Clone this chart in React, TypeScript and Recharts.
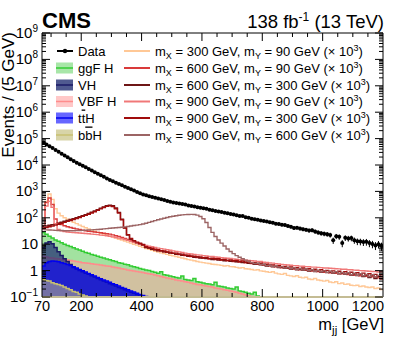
import React from 'react';
import { ComposedChart, Area, Line, Scatter, XAxis, YAxis, ErrorBar, ReferenceLine } from 'recharts';

const FONT = "'Liberation Sans', Arial, Helvetica, sans-serif";
const W = 407, H = 340;
const PL = 42, PR = 383, PT = 33, PB = 297;

// bin lower edges (10 GeV bins, values in events / 5 GeV)
const binLo = 70, binW = 10, nBins = 113;

const dataVals = [70800,60300,51300,43600,37200,31600,26900,22900,19500,16600,
14100,12300,10700,9330,8130,7080,6170,5370,4680,4070,
3550,3090,2690,2400,2140,1910,1700,1510,1350,1200,
1070,955,851,759,708,661,617,575,537,501,
468,437,407,380,363,347,331,316,295,282,
269,251,240,229,219,204,195,182,174,166,
155,148,138,132,126,117,116,105,100,92,
89,85,79,76,72,68,65,60,58,55,
53,49,46,41,42,39,37,35,33,34,
30,28,26,25,24,22.4,14,20,19,11,
17.4,16.6,17,14.1,12.8,12.6,12.0,12.3,11.0,10.2,
9.0,10.0,8.5];

const ggfH = [28,24,20,17,14.5,12.8,11.3,10,9,8.2,
7.4,6.6,6.0,5.4,4.9,4.5,4.1,3.8,3.5,3.2,
3.0,2.75,2.55,2.35,2.2,2.0,1.9,1.75,1.65,1.5,
1.4,1.3,1.2,1.12,1.05,1.0,0.92,0.86,0.8,0.9,
0.7,0.66,0.62,0.58,0.55,0.52,0.62,0.46,0.44,0.42,
0.5,0.38,0.36,0.34,0.32,0.31,0.29,0.36,0.26,0.25,
0.24,0.22,0.21,0.2,0.24,0.17,0.16,0.15,0.14,0.13,
0.15,0.11,0.1,0.09,0.08];

const vbfH = [3.5,3.3,3.1,3.0,2.9,2.8,2.7,2.6,2.5,2.4,
2.3,2.2,2.1,2.0,1.95,1.9,1.8,1.75,1.7,1.62,
1.55,1.5,1.45,1.38,1.3,1.25,1.18,1.12,1.06,1.0,
0.96,0.92,0.88,0.84,0.8,0.76,0.72,0.68,0.64,0.6,
0.56,0.53,0.5,0.47,0.44,0.42,0.4,0.38,0.36,0.34,
0.32,0.3,0.29,0.27,0.26,0.25,0.24,0.22,0.21,0.2,
0.19,0.18,0.17,0.16,0.15,0.14,0.13,0.12,0.11,0.105,
0.1,0.09,0.08,0.07];

const vhH = [7.5,11,12.5,10.5,7.5,5.2,3.7,2.8,2.2,1.7,
1.3,1.15,1.0,0.9,0.8,0.72,0.64,0.57,0.5,0.45,
0.4,0.36,0.32,0.29,0.26,0.23,0.21,0.19,0.17,0.15,
0.14,0.125,0.11,0.1,0.09];

const tthH = [1.5,2.0,2.2,2.3,2.25,2.15,2.0,1.85,1.7,1.55,
1.4,1.25,1.1,0.98,0.88,0.78,0.7,0.62,0.55,0.49,
0.44,0.4,0.36,0.32,0.29,0.26,0.23,0.21,0.19,0.17,
0.155,0.14,0.125,0.115,0.105,0.098,0.09,0.08];

const bbhH = [0.45,0.42,0.4,0.35,0.32,0.3,0.27,0.24,0.21,0.19,0.16,0.15,0.13,0.12,0.11,0.1,0.09,0.08];

const sigX300Y90 = [60,420,800,500,220,150,120,100,88,78,
68,60,53,47,42,38,34,31,28,26,
24,22,20,18.5,17,15.5,14.3,13.2,12,11,
10,9.2,8.4,7.6,6.9,6.4,5.9,5.4,5.0,4.7,
4.4,4.1,3.8,3.6,3.4,3.2,3.0,2.8,2.6,2.5,
2.35,2.2,2.1,2.0,1.92,1.85,1.75,1.7,1.65,1.58,
1.5,1.55,1.42,1.4,1.32,1.26,1.3,1.18,1.15,1.1,
1.04,1.08,0.98,0.95,0.9,0.86,0.9,0.8,0.75,0.72,
0.78,0.66,0.63,0.6,0.64,0.56,0.53,0.56,0.48,0.46,
0.5,0.44,0.42,0.4,0.42,0.37,0.35,0.38,0.32,0.34,
0.3,0.31,0.28,0.27,0.28,0.25,0.26,0.24,0.23,0.24,
0.21,0.22,0.19];

const sigX600Y90 = [50,380,560,320,90,62,55,50,46,43,
40,38,36,34,32.5,31,30,29,28,27,
26,25,24,22.5,21,19.5,18,16.5,15,13.5,
12,11,10,9,7.6,7.2,6.6,6.2,5.8,5.5,
5.2,4.9,4.7,4.5,4.2,4.05,3.9,3.7,3.55,3.4,
3.3,3.15,3.1,2.95,2.9,2.75,2.75,2.62,2.6,2.48,
2.45,2.35,2.3,2.22,2.2,2.1,2.08,1.98,1.95,1.85,
1.82,1.74,1.72,1.62,1.58,1.5,1.48,1.38,1.36,1.29,
1.28,1.22,1.2,1.14,1.13,1.08,1.07,1.03,1.01,0.97,
0.96,0.92,0.91,0.87,0.86,0.83,0.82,0.79,0.78,0.75,
0.74,0.71,0.7,0.67,0.67,0.64,0.63,0.61,0.6,0.58,
0.57,0.53,0.55];

const sigX600Y300 = [46,49,52,55,59,63,68,74,80,86,
93,101,110,120,132,146,162,180,203,230,
258,285,300,285,235,160,88,42,22,15.5,
12.8,11.4,10.3,9.3,7.5,7.1,6.4,6.1,5.6,5.6,
5.1,5.0,4.6,4.5,4.1,4.2,3.8,3.8,3.45,3.5,
3.2,3.3,3.0,3.05,2.85,2.85,2.65,2.75,2.5,2.6,
2.35,2.45,2.25,2.35,2.15,2.2,2.0,2.1,1.9,1.95,
1.75,1.85,1.65,1.7,1.5,1.6,1.4,1.45,1.3,1.38,
1.22,1.3,1.15,1.22,1.08,1.15,1.02,1.1,0.97,1.03,
0.92,1.0,0.88,0.95,0.84,0.9,0.8,0.86,0.76,0.82,
0.72,0.8,0.68,0.76,0.65,0.72,0.6,0.7,0.55,0.66,
0.5,0.62,0.48];

const sigX900Y90 = [40,280,420,250,60,36,32,30,29,28,
27.5,27,26.5,26,25.5,25,24,23.5,23,22,
21.5,21,20,19,18,17,16,15,14,13,
12,11.2,10.4,9.6,9.0,8.4,8.0,7.5,7.1,6.8,
6.5,6.2,5.9,5.6,5.3,5.1,4.9,4.6,4.4,4.25,
4.1,3.95,3.85,3.7,3.6,3.45,3.4,3.28,3.2,3.08,
3.0,2.92,2.86,2.75,2.7,2.6,2.58,2.48,2.44,2.35,
2.3,2.22,2.2,2.08,2.02,1.95,1.92,1.82,1.78,1.7,
1.68,1.62,1.6,1.54,1.52,1.48,1.46,1.42,1.4,1.36,
1.35,1.32,1.3,1.26,1.25,1.22,1.2,1.17,1.16,1.12,
1.12,1.08,1.07,1.04,1.03,1.0,0.99,0.96,0.95,0.93,
0.92,0.88,0.91];

const sigX900Y300 = [40,43,46,49,53,57,62,67,73,79,
86,94,103,113,124,137,152,170,192,218,
245,270,282,268,220,150,84,41,23,16.5,
13.5,12,10.8,9.8,8.0,7.4,7.0,6.4,6.2,5.7,
5.6,5.1,5.0,4.6,4.6,4.2,4.2,3.8,3.8,3.5,
3.5,3.3,3.3,3.1,3.15,2.9,2.95,2.8,2.8,2.6,
2.65,2.45,2.55,2.35,2.45,2.2,2.3,2.1,2.2,1.95,
2.0,1.82,1.9,1.7,1.75,1.6,1.65,1.45,1.52,1.36,
1.45,1.3,1.38,1.24,1.3,1.18,1.25,1.12,1.18,1.06,
1.12,1.0,1.08,0.96,1.02,0.92,0.98,0.88,0.95,0.84,
0.9,0.8,0.87,0.76,0.83,0.72,0.8,0.68,0.76,0.64,
0.72,0.6,0.7];

const sigX900Y600 = [36,35,34.5,34,33.5,33,33,32.5,32.5,32.5,
32.5,33,33,33.5,34,34.5,35,35.5,36,37,
38,39,40,41,42,43,44,45.5,47,49,
51,53,55,58,62,67,72,78,84,90,
96,103,109,115,120,125,129,132,134,135,
133,126,112,92,66,43,28,19.5,14.5,11,
8.5,6.6,5.3,4.4,3.7,3.2,2.8,2.5,2.25,2.0,
1.85,1.9,1.7,1.75,1.55,1.6,1.45,1.5,1.35,1.42,
1.25,1.35,1.2,1.28,1.12,1.2,1.05,1.15,1.0,1.08,
0.95,1.03,0.9,0.98,0.86,0.94,0.82,0.9,0.78,0.86,
0.74,0.83,0.7,0.8,0.67,0.76,0.64,0.72,0.6,0.7,
0.57,0.66,0.55];

const xTickVals = [70,100,150,200,250,300,350,400,450,500,550,600,650,700,750,800,850,900,950,1000,1050,1100,1150,1200];
const xTickLabels = [70,200,400,600,800,1000,1200];

const yTickVals: number[] = [];
for (let k = -1; k <= 9; k++) {
  yTickVals.push(Number(Math.pow(10, k).toPrecision(3)));
  if (k < 9) for (let d = 2; d <= 9; d++) yTickVals.push(Number((d * Math.pow(10, k)).toPrecision(3)));
}

const histSeries: Record<string, number[]> = {
  ggf: ggfH, vbf: vbfH, vh: vhH, tth: tthH, bbh: bbhH,
  s1: sigX300Y90, s2: sigX600Y90, s3: sigX600Y300, s4: sigX900Y90, s5: sigX900Y300, s6: sigX900Y600,
};

const table = Array.from({ length: nBins + 1 }, (_, i) => {
  const row: Record<string, number | undefined> = { m: binLo + binW * i };
  for (const key of Object.keys(histSeries)) {
    const arr = histSeries[key];
    row[key] = i < arr.length ? arr[i] : i === arr.length ? arr[arr.length - 1] : undefined;
  }
  return row;
});

const dataPts = dataVals.map((v, i) => ({ m: binLo + binW * i + binW / 2, v, err: Math.sqrt(v) }));

const XTick = (props: any) => {
  const { x, payload } = props;
  const v = payload.value;
  const major = v % 200 === 0;
  const len = major ? 8 : 4;
  const showLine = v !== 70 && v !== 1200;
  const lab = xTickLabels.includes(v);
  return (
    <g>
      {showLine && <line x1={x} x2={x} y1={PB} y2={PB - len} stroke="#000" strokeWidth={1} />}
      {showLine && <line x1={x} x2={x} y1={PT} y2={PT + len} stroke="#000" strokeWidth={1} />}
      {lab && (
        <text x={v === 1200 ? x + 1 : x} y={PB + 14} textAnchor={v === 1200 ? 'end' : 'middle'} fontSize={14.5} fontFamily={FONT} fill="#000">
          {v}
        </text>
      )}
    </g>
  );
};

const YTick = (props: any) => {
  const { y, payload } = props;
  const v = payload.value;
  const k = Math.round(Math.log10(v));
  const major = Math.abs(v - Math.pow(10, k)) / v < 1e-6;
  const len = major ? 8 : 4;
  let label: any = null;
  if (major) {
    if (k === 0) label = '1';
    else if (k === 1) label = '10';
    else label = (<>10<tspan dy={-6} fontSize={10}>{k < 0 ? '\u2212' + Math.abs(k) : k}</tspan></>);
  }
  return (
    <g>
      <line x1={PL} x2={PL + len} y1={y} y2={y} stroke="#000" strokeWidth={1} />
      <line x1={PR - len} x2={PR} y1={y} y2={y} stroke="#000" strokeWidth={1} />
      {label && (
        <text x={38} y={y + 5} textAnchor="end" fontSize={15} fontFamily={FONT} fill="#000">{label}</text>
      )}
    </g>
  );
};

const bgStyles = [
  { key: 'ggf', name: 'ggF H', stroke: '#33cc33', fill: '#a2e2a0', op: 1, box: '#a8e6a8' },
  { key: 'vbf', name: 'VBF H', stroke: '#ff8c8c', fill: '#ff9f9f', op: 0.5, box: '#ffc8c8' },
  { key: 'vh', name: 'VH', stroke: '#1a1a66', fill: '#1e2870', op: 0.7, box: '#505a90' },
  { key: 'tth', name: 'ttH', stroke: '#0000ee', fill: '#0000ff', op: 0.6, box: '#6666ff' },
  { key: 'bbh', name: 'bbH', stroke: '#c8c070', fill: '#c8c080', op: 0.5, box: '#d8d4a8' },
];

const sigStyles = [
  { key: 's1', mx: 300, my: 90, color: '#ffc896' },
  { key: 's2', mx: 600, my: 90, color: '#d93a3a' },
  { key: 's3', mx: 600, my: 300, color: '#6e1616' },
  { key: 's4', mx: 900, my: 90, color: '#f07878' },
  { key: 's5', mx: 900, my: 300, color: '#a00c0c' },
  { key: 's6', mx: 900, my: 600, color: '#9c6464' },
];

const legendY = [51, 68, 85, 101.5, 118, 135];

const ErrShape = (props: any) => {
  const { cx, cy } = props;
  if (cx == null || cy == null) return null;
  return (
    <g>
      <line x1={cx - 1.5} x2={cx + 1.5} y1={cy} y2={cy} stroke="#000" strokeWidth={1} />
      <circle cx={cx} cy={cy} r={2} fill="#000" />
    </g>
  );
};

const Overlay = () => {
  const leftLabels: any[] = [
    'Data',
    'ggF H',
    'VH',
    'VBF H',
    (<>t<tspan textDecoration="overline">t</tspan>H</>),
    (<>b<tspan textDecoration="overline">b</tspan>H</>),
  ];
  return (
    <svg width={W} height={H} style={{ position: 'absolute', left: 0, top: 0, pointerEvents: 'none' }} fontFamily={FONT}>
      <text x={42} y={28} fontSize={22} fontWeight="bold" fill="#000">CMS</text>
      <text x={384} y={28} fontSize={18.5} textAnchor="end" fill="#000">
        138 fb<tspan dy={-7} fontSize={12}>-1</tspan><tspan dy={7}> (13 TeV)</tspan>
      </text>
      <text transform={`translate(14,${PT - 1}) rotate(-90)`} textAnchor="end" fontSize={17} fill="#000">Events / (5 GeV)</text>
      <text x={384} y={330} textAnchor="end" fontSize={16.5} fill="#000">
        m<tspan dy={4} fontSize={11.5}>jj</tspan><tspan dy={-4}> [GeV]</tspan>
      </text>
      {/* left legend */}
      <line x1={57} x2={73} y1={legendY[0]} y2={legendY[0]} stroke="#000" strokeWidth={2} />
      <circle cx={65} cy={legendY[0]} r={2.2} fill="#000" />
      {bgStyles.map((b) => {
        const order = ['ggf', 'vh', 'vbf', 'tth', 'bbh'];
        const idx = order.indexOf(b.key) + 1;
        const yc = legendY[idx];
        return (
          <g key={b.key}>
            <rect x={56} y={yc - 5.5} width={17} height={11} fill={b.box} />
            <line x1={56} x2={73} y1={yc} y2={yc} stroke={b.stroke} strokeWidth={1.5} />
          </g>
        );
      })}
      {leftLabels.map((l, i) => (
        <text key={i} x={78} y={legendY[i] + 4.5} fontSize={13} fill="#000">{l}</text>
      ))}
      {/* right legend */}
      {sigStyles.map((s, i) => (
        <g key={s.key}>
          <line x1={124} x2={150} y1={legendY[i]} y2={legendY[i]} stroke={s.color} strokeWidth={2} />
          <text x={155} y={legendY[i] + 4.5} fontSize={13} fill="#000">
            m<tspan dy={3} fontSize={9}>X</tspan><tspan dy={-3}> = {s.mx} GeV, m</tspan><tspan dy={3} fontSize={9}>Y</tspan><tspan dy={-3}> = {s.my} GeV (× 10</tspan><tspan dy={-5} fontSize={9}>3</tspan><tspan dy={5}>)</tspan>
          </text>
        </g>
      ))}
    </svg>
  );
};

export default function App() {
  return (
    <div style={{ position: 'absolute', left: 0, top: 0, width: W, height: H, background: '#fff' }}>
      <ComposedChart width={W} height={H} data={table} margin={{ top: PT, right: W - PR, left: 0, bottom: 0 }}>
        <XAxis
          dataKey="m"
          type="number"
          domain={[70, 1200]}
          allowDataOverflow
          ticks={xTickVals}
          interval={0}
          tick={(p: any) => <XTick {...p} />}
          tickLine={false}
          height={H - PB}
          axisLine={{ stroke: '#c4bc94', strokeWidth: 2 }}
        />
        <YAxis
          type="number"
          scale="log"
          domain={[0.1, 1e9]}
          allowDataOverflow
          ticks={yTickVals}
          interval={0}
          tick={(p: any) => <YTick {...p} />}
          tickLine={false}
          width={PL}
          axisLine={{ stroke: '#000', strokeWidth: 1 }}
        />
        {bgStyles.map((b) => (
          <Area
            key={b.key}
            dataKey={b.key}
            type="stepAfter"
            stroke={b.stroke}
            strokeWidth={1.5}
            fill={b.fill}
            fillOpacity={b.op}
            baseValue={0.1}
            isAnimationActive={false}
            dot={false}
            activeDot={false}
          />
        ))}
        {sigStyles.map((s) => (
          <Line
            key={s.key}
            dataKey={s.key}
            type="stepAfter"
            stroke={s.color}
            strokeWidth={1.4}
            dot={false}
            activeDot={false}
            isAnimationActive={false}
          />
        ))}
        <Scatter data={dataPts} dataKey="v" fill="#000" shape={(p: any) => <ErrShape {...p} />} isAnimationActive={false}>
          <ErrorBar dataKey="err" direction="y" width={0} stroke="#000" strokeWidth={1} />
        </Scatter>
        <ReferenceLine y={1e9} stroke="#000" strokeWidth={1} />
        <ReferenceLine x={1200} stroke="#000" strokeWidth={1} />
      </ComposedChart>
      <Overlay />
    </div>
  );
}
